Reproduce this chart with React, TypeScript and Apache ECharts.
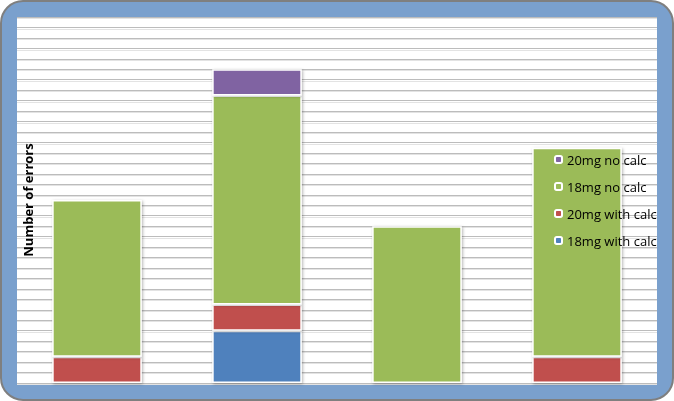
import React, { useEffect, useRef } from "react";
import * as echarts from "echarts";

const categories = ["Group 1", "Group 2", "Group 3", "Group 4"];
const s18WithCalc = [null, 2, null, null];
const s20WithCalc = [1, 1, null, 1];
const s18NoCalc = [6, 8, 6, 8];
const s20NoCalc = [null, 1, null, null];
const legendOrder = ["20mg no calc", "18mg no calc", "20mg with calc", "18mg with calc"];

const FONT = "'Open Sans', 'Noto Sans', sans-serif";
const Y_MAX = 14;
const Y_STEP = 0.4;

export default function App() {
  const ref = useRef<HTMLDivElement>(null);
  useEffect(() => {
    if (!ref.current) return;
    const chart = echarts.init(ref.current, null, { renderer: "svg" });
    const itemStyle = (color: string) => ({
      color,
      borderColor: "#ffffff",
      borderWidth: 1.5,
      shadowColor: "rgba(0,0,0,0.3)",
      shadowBlur: 3,
      shadowOffsetX: 1,
      shadowOffsetY: 1,
    });
    const mk = (name: string, data: (number | null)[], color: string) => ({
      name,
      type: "bar",
      stack: "total",
      data,
      barWidth: "56%",
      xAxisIndex: 0,
      yAxisIndex: 0,
      itemStyle: itemStyle(color),
    });
    const hiddenAxisBits = {
      axisLine: { show: false },
      axisTick: { show: false },
      axisLabel: { show: false },
    };
    chart.setOption({
      animation: false,
      graphic: [
        {
          type: "rect",
          z: -20,
          silent: true,
          shape: { x: 1, y: 1, width: 672, height: 399, r: 22 },
          style: { fill: "#7aa0cd", stroke: "#7f7f7f", lineWidth: 2 },
        },
        {
          type: "rect",
          z: -15,
          silent: true,
          shape: { x: 17, y: 17, width: 640, height: 366 },
          style: { fill: "#ffffff" },
        },
        {
          type: "rect",
          z: 100,
          silent: true,
          shape: { x: 657, y: 30, width: 15, height: 340 },
          style: { fill: "#7aa0cd" },
        },
      ],
      grid: [
        { left: 17, right: 17, top: 17, bottom: 18, containLabel: false, z: 1 },
        { left: 17, right: 17, top: 18.5, bottom: 17, containLabel: false, z: 0 },
      ],
      legend: {
        orient: "vertical",
        left: 554,
        top: 153,
        padding: 0,
        itemWidth: 7,
        itemHeight: 7,
        itemGap: 14,
        data: legendOrder,
        textStyle: { fontFamily: FONT, fontSize: 13, color: "#000" },
      },
      xAxis: [
        { type: "category", data: categories, gridIndex: 0, ...hiddenAxisBits },
        { type: "category", data: categories, gridIndex: 1, ...hiddenAxisBits },
      ],
      yAxis: [
        {
          type: "value",
          gridIndex: 0,
          min: 0,
          max: Y_MAX,
          interval: Y_STEP,
          name: "Number of errors",
          nameLocation: "middle",
          nameGap: -17,
          nameRotate: 90,
          nameTextStyle: { fontFamily: FONT, fontSize: 13, fontWeight: "bold", color: "#000" },
          ...hiddenAxisBits,
          z: 1,
          splitLine: { show: true, lineStyle: { color: "#bcbcbc", width: 1 } },
        },
        {
          type: "value",
          gridIndex: 1,
          min: 0,
          max: Y_MAX,
          interval: Y_STEP,
          ...hiddenAxisBits,
          z: 0,
          splitLine: { show: true, lineStyle: { color: "#e3e3e3", width: 1 } },
        },
      ],
      series: [
        mk("18mg with calc", s18WithCalc, "#4f81bd"),
        mk("20mg with calc", s20WithCalc, "#c0504d"),
        mk("18mg no calc", s18NoCalc, "#9bbb59"),
        mk("20mg no calc", s20NoCalc, "#8064a2"),
      ],
    });
    return () => chart.dispose();
  }, []);
  return (
    <div
      ref={ref}
      style={{ position: "fixed", left: 0, top: 0, width: 674, height: 401 }}
    />
  );
}
